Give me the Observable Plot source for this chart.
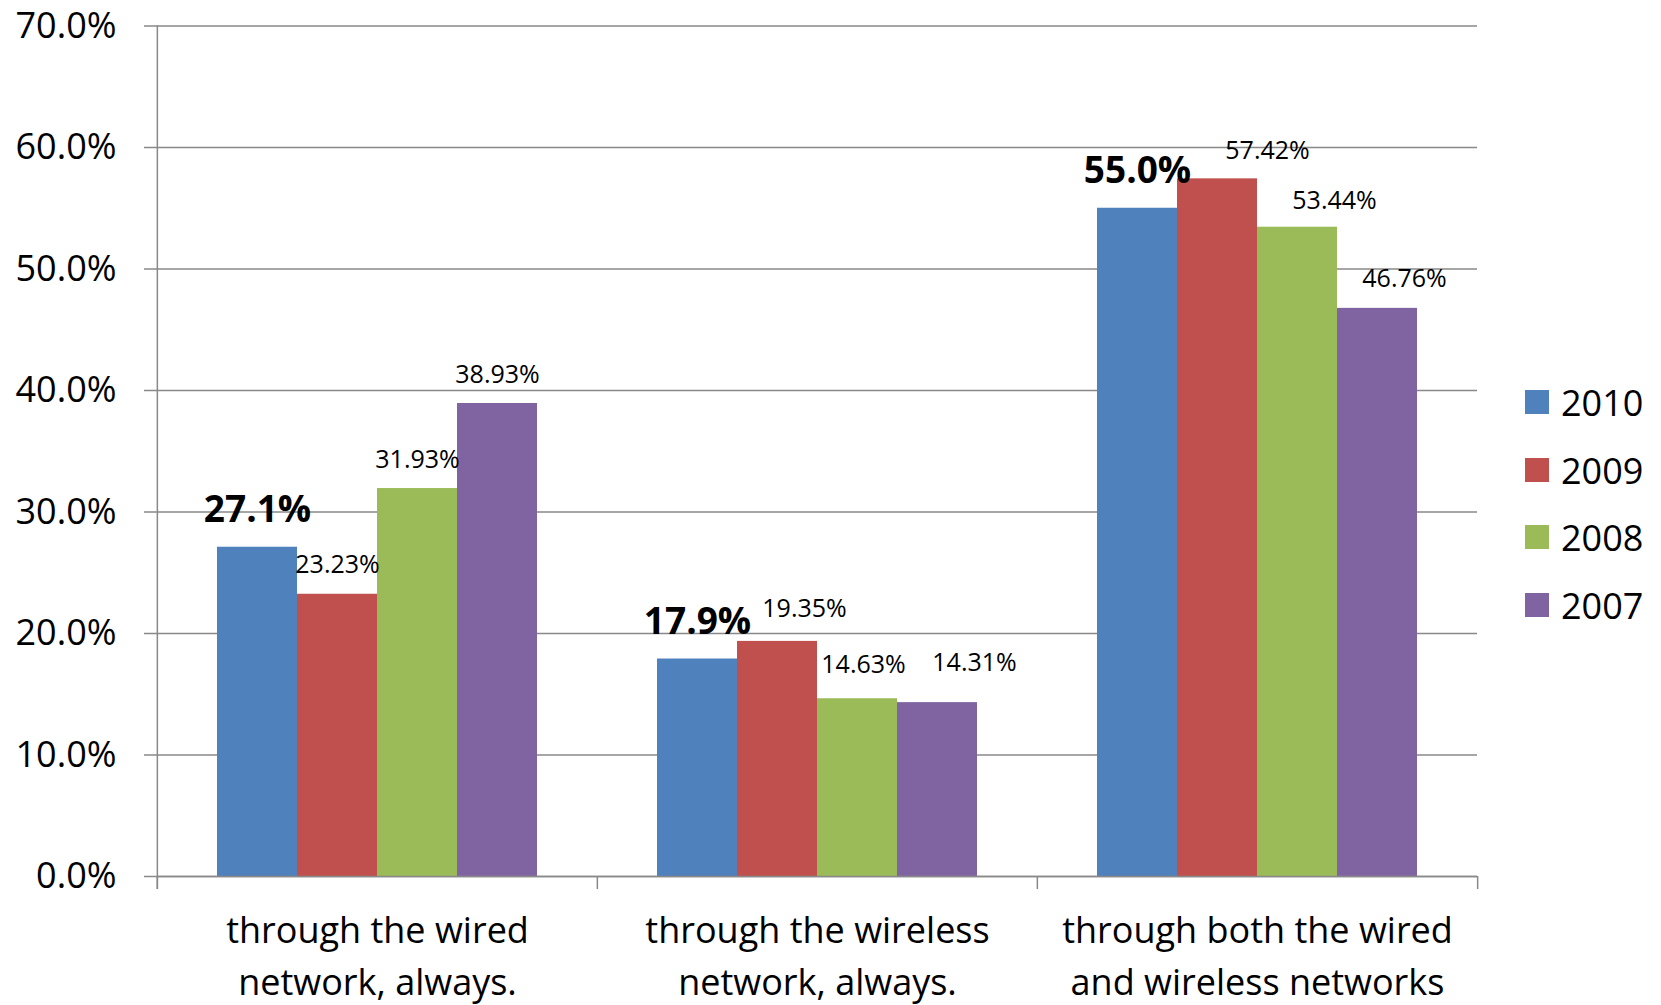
<!DOCTYPE html>
<html>
<head>
<meta charset="utf-8">
<script src="https://cdn.jsdelivr.net/npm/d3@7"></script>
<script src="https://cdn.jsdelivr.net/npm/@observablehq/plot@0.6"></script>
<style>
  body { margin: 0; background: #fff; font-family: "Open Sans", sans-serif; }
  #wrap { position: relative; width: 1661px; height: 1005px; overflow: hidden; }
  #legend { position: absolute; left: 0; top: 0; }
  .item { position: absolute; left: 1525px; display: flex; align-items: center; height: 40px; font-size: 36px; color: #000; }
  .sw { width: 24px; height: 24px; margin-right: 12px; }
</style>
</head>
<body>
<div id="wrap"><div id="chart"></div><div id="legend"></div></div>
<script>
// ---- data ----
const categories = [
  "through the wired network, always.",
  "through the wireless network, always.",
  "through both the wired and wireless networks"
];
const categoryLabels = [
  "through the wired\nnetwork, always.",
  "through the wireless\nnetwork, always.",
  "through both the wired\nand wireless networks"
];
const years = ["2010", "2009", "2008", "2007"];
const values2010 = [27.1, 17.9, 55.0];
const values2009 = [23.23, 19.35, 57.42];
const values2008 = [31.93, 14.63, 53.44];
const values2007 = [38.93, 14.31, 46.76];
const yTicks = [0, 10, 20, 30, 40, 50, 60, 70];

// ---- styling / layout ----
const colors = ["#4F81BD", "#C0504D", "#9BBB59", "#8064A2"];
const gray = "#898989";
// label nudges (px) per year (rows) and category (columns)
const labelDx = [[0, 0, 0], [0, 27, 50], [0, 6, 37], [0, 37, 27]];
const labelDy = [[-37.5, -37, -37.5], [-29, -32, -27.5], [-29, -34, -26], [-29, -39.5, -29]];

const W = 1661, H = 1005, ML = 156, MR = 183, MT = 25.5, MB = 129;
const facetW = (W - ML - MR) / categories.length;
const padOuter = 0.75;
const step = facetW / (years.length + 2 * padOuter);
const edge = step * (0.5 + padOuter);
const plotH = H - MT - MB;

const seriesValues = [values2010, values2009, values2008, values2007];
const rows = categories.flatMap((c, ci) => years.map((y, yi) => ({
  category: c,
  year: y,
  value: seriesValues[yi][ci],
  label: yi === 0 ? seriesValues[yi][ci].toFixed(1) + "%" : seriesValues[yi][ci].toFixed(2) + "%",
  yi, ci
})));

const labelMarks = rows.map(r => Plot.text([r], {
  fx: "category", x: "year", y: "value", text: "label",
  dx: labelDx[r.yi][r.ci], dy: labelDy[r.yi][r.ci],
  fontSize: r.yi === 0 ? 37 : 25,
  fontWeight: r.yi === 0 ? "bold" : "normal",
  fill: "#000"
}));

const chart = Plot.plot({
  width: W, height: H,
  marginLeft: ML, marginRight: MR, marginTop: MT, marginBottom: MB,
  style: { fontFamily: "Open Sans", background: "white", color: "#000" },
  fx: { domain: categories, padding: 0 },
  x: { domain: years, paddingInner: 0, paddingOuter: padOuter, axis: null },
  y: { domain: [0, 70] },
  color: { domain: years, range: colors },
  marks: [
    Plot.ruleY(yTicks, { stroke: gray, strokeWidth: 1.5 }),
    Plot.barY(rows, { fx: "category", x: "year", y: "value", fill: "year" }),
    Plot.ruleY([0], { stroke: gray, strokeWidth: 1.5 }),
    // y-axis line
    Plot.ruleX([categories[0]], { fx: d => d, x: () => years[0], dx: -edge, insetBottom: -13, stroke: gray, strokeWidth: 1.5 }),
    // category boundary ticks
    Plot.ruleX(categories, { fx: d => d, x: () => years[0], dx: -edge, insetTop: plotH, insetBottom: -13, stroke: gray, strokeWidth: 1.5 }),
    Plot.ruleX([categories[categories.length - 1]], { fx: d => d, x: () => years[years.length - 1], dx: edge, insetTop: plotH, insetBottom: -13, stroke: gray, strokeWidth: 1.5 }),
    Plot.axisY(yTicks, {
      anchor: "left", tickSize: 13, tickPadding: 28, fontSize: 36, label: null,
      stroke: gray, strokeWidth: 1.5, fill: "#000",
      tickFormat: d => d.toFixed(1) + "%"
    }),
    Plot.axisFx({
      anchor: "bottom", tickSize: 0, tickPadding: 29, fontSize: 36, lineHeight: 1.46,
      label: null, fill: "#000",
      tickFormat: c => categoryLabels[categories.indexOf(c)]
    }),
    ...labelMarks
  ]
});
document.getElementById("chart").appendChild(chart);

// legend
const legendCenters = [402, 470, 537, 605];
const legend = document.getElementById("legend");
years.forEach((y, i) => {
  const item = document.createElement("div");
  item.className = "item";
  item.style.top = (legendCenters[i] - 20) + "px";
  const sw = document.createElement("div");
  sw.className = "sw";
  sw.style.background = colors[i];
  const t = document.createElement("span");
  t.textContent = y;
  item.appendChild(sw);
  item.appendChild(t);
  legend.appendChild(item);
});
</script>
</body>
</html>
